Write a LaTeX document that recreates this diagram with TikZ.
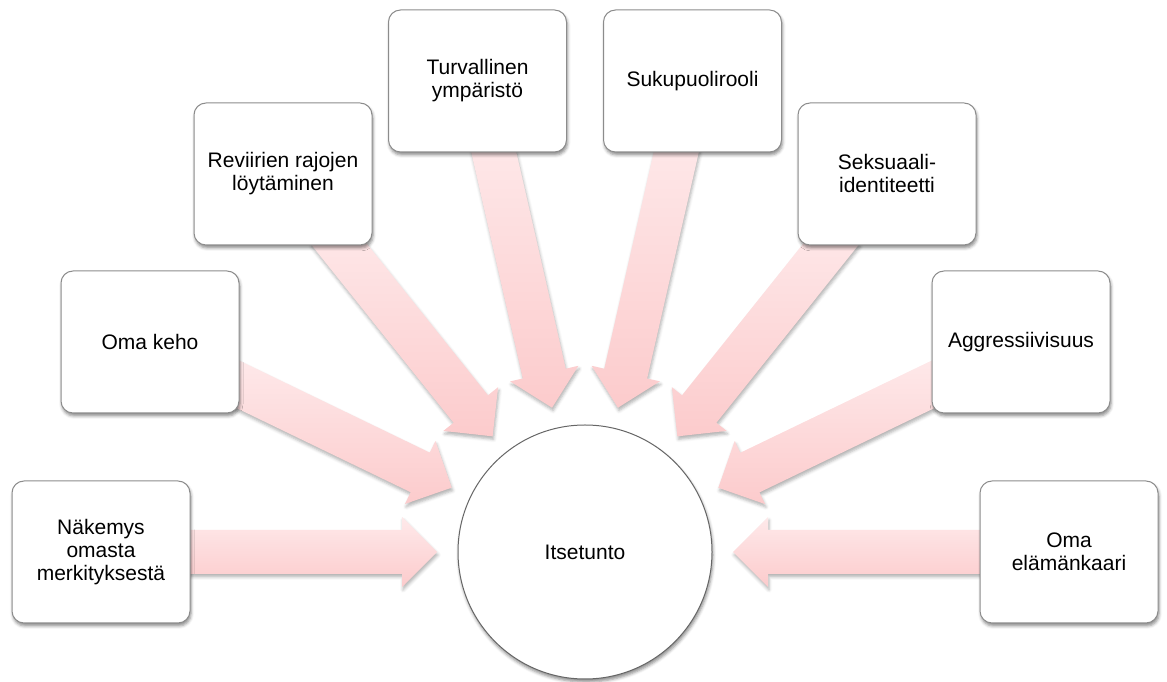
\documentclass[tikz,border=0pt]{standalone}
\usepackage{fontspec}
\setmainfont{Liberation Sans}
\usetikzlibrary{shadows,shadows.blur,calc,backgrounds}
\definecolor{arrowtop}{RGB}{254,233,234}
\definecolor{arrowbot}{RGB}{252,203,204}
\tikzstyle{factor}=[rectangle,rounded corners=12pt,draw=black!45,line width=1pt,fill=white,minimum width=178pt,minimum height=142pt,align=center,font=\fontsize{21}{23}\selectfont,blur shadow={shadow xshift=1pt,shadow yshift=-3pt,shadow blur radius=3pt,shadow opacity=45}]
\tikzstyle{core}=[circle,draw=black!60,line width=1pt,fill=white,minimum size=254pt,inner sep=0pt,font=\fontsize{21}{23}\selectfont,blur shadow={shadow xshift=1pt,shadow yshift=-3pt,shadow blur radius=3pt,shadow opacity=45}]
\tikzstyle{bigarrow}=[top color=arrowtop,bottom color=arrowbot,blur shadow={shadow xshift=1pt,shadow yshift=-3pt,shadow blur radius=3pt,shadow opacity=30}]

\begin{document}
\begin{tikzpicture}[x=1pt,y=1pt]
    \useasboundingbox (0,0) rectangle (1167,682);

    \node[core] (itsetunto) at (585,130) {Itsetunto};

    \foreach \pos/ \nm / \txt in {{(101,130)/nakemys/Näkemys\\omasta\\merkityksestä},
        {(150,340)/omakeho/Oma keho},
        {(283,508)/reviirit/Reviirien rajojen\\löytäminen},
        {(477.5,601)/turvallinen/Turvallinen\\ympäristö},
        {(692.5,601)/sukupuoli/Sukupuolirooli},
        {(887,508)/seksuaali/Seksuaali-\\identiteetti},
        {(1021,340)/aggressio/Aggressiivisuus},
        {(1069,130)/elamankaari/Oma\\elämänkaari}}
        \node[factor] (\nm) at \pos {\txt};

    % arrows run under the boxes, tips stop short of the circle
    \begin{scope}[on background layer]
    \foreach \nm in {nakemys,omakeho,reviirit,turvallinen,sukupuoli,seksuaali,aggressio,elamankaari} {
        \path (\nm) -- (itsetunto) coordinate[pos=0] (\nm-b);
        \coordinate (\nm-s) at ($(\nm-b)!20pt!(\nm)$);
        \coordinate (\nm-t) at ($(itsetunto)!148pt!(\nm)$);
        \shade[bigarrow] let \p1=($(\nm-t)-(\nm-s)$), \n1={atan2(\y1,\x1)} in
            ($(\nm-s)+(\n1+90:22)$) -- ($(\nm-t)+(\n1+180:35)+(\n1+90:22)$)
            -- ($(\nm-t)+(\n1+180:35)+(\n1+90:35)$) -- (\nm-t)
            -- ($(\nm-t)+(\n1+180:35)+(\n1-90:35)$) -- ($(\nm-t)+(\n1+180:35)+(\n1-90:22)$)
            -- ($(\nm-s)+(\n1-90:22)$) -- cycle;
    }
    \end{scope}
\end{tikzpicture}
\end{document}
